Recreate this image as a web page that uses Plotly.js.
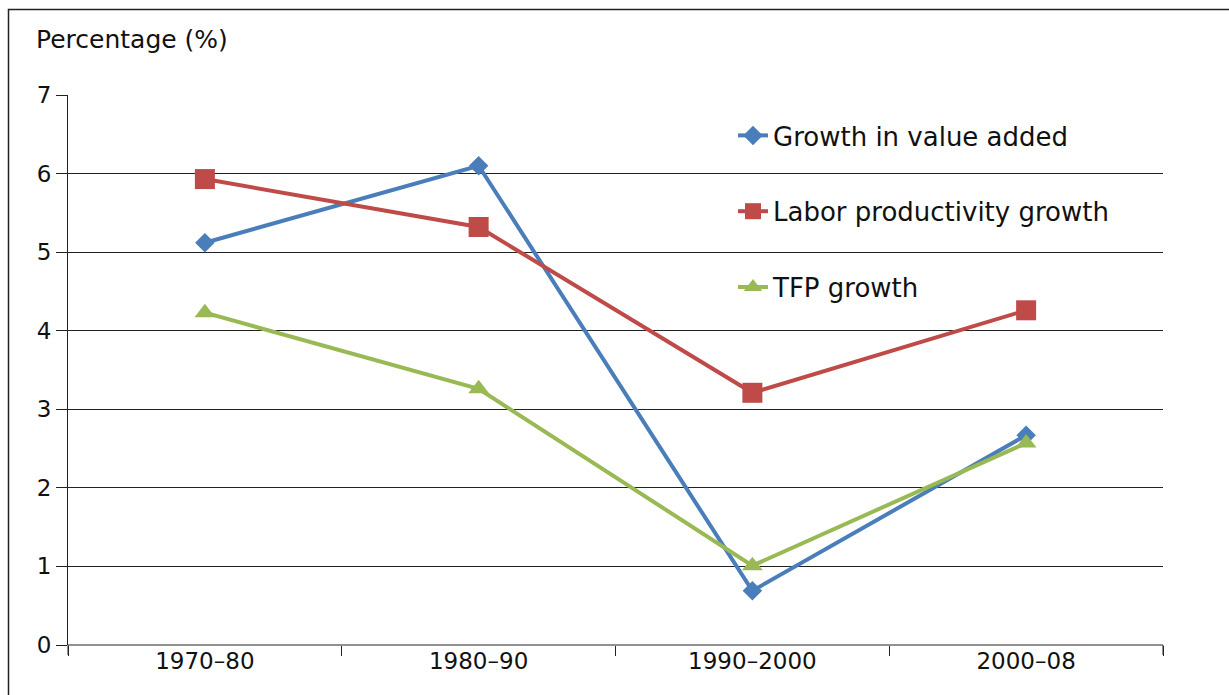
<!DOCTYPE html>
<html><head><meta charset="utf-8">
<script src="https://cdn.plot.ly/plotly-3.0.1.min.js"></script>
<style>html,body{margin:0;padding:0;background:#fff}#chart{width:1229px;height:695px}</style>
</head><body><div id="chart"></div>
<script>
const categories = ["1970–80", "1980–90", "1990–2000", "2000–08"];
const valueAdded = [5.12, 6.1, 0.69, 2.67];
const laborProductivity = [5.93, 5.32, 3.21, 4.26];
const tfpGrowth = [4.23, 3.26, 1.01, 2.57];
const yTicks = [0, 1, 2, 3, 4, 5, 6, 7];

const font = "'DejaVu Sans', sans-serif";
const traces = [
  {x: categories, y: valueAdded, name: "Growth in value added", legendgroup: "a", type: "scatter", mode: "lines+markers",
   line: {color: "#4A7EBB", width: 4}, marker: {symbol: "diamond", size: 15, color: "#4A7EBB"}},
  {x: categories, y: laborProductivity, name: "Labor productivity growth", legendgroup: "b", type: "scatter", mode: "lines+markers",
   line: {color: "#BE4B48", width: 4}, marker: {symbol: "square", size: 20, color: "#BE4B48"}},
  {x: categories, y: tfpGrowth, name: "TFP growth", legendgroup: "c", type: "scatter", mode: "lines+markers",
   line: {color: "#98B954", width: 4}, marker: {symbol: "triangle-up", size: 18, color: "#98B954"}}
];
const layout = {
  width: 1229, height: 695,
  margin: {l: 68, r: 66, t: 95, b: 50},
  paper_bgcolor: "#fff", plot_bgcolor: "#fff",
  font: {family: font, color: "#111", size: 22},
  showlegend: true,
  legend: {x: (733 - 68) / 1095, y: 1 - (112 - 95) / 550, xanchor: "left", yanchor: "top", bgcolor: "rgba(0,0,0,0)",
    font: {size: 26, family: font, color: "#111"}, tracegroupgap: 39},
  xaxis: {type: "category", tickson: "boundaries", ticks: "outside", ticklen: 10, tickcolor: "#222",
    showline: false, showgrid: false, zeroline: false, tickfont: {size: 23}, range: [-0.5, 3.5]},
  yaxis: {range: [0, 7], tickvals: yTicks, ticks: "outside", ticklen: 11, tickcolor: "#222",
    showgrid: true, gridcolor: "#222", gridwidth: 1, showline: true, linecolor: "#222", linewidth: 1,
    zeroline: false, tickfont: {size: 23}},
  shapes: [
    {type: "line", xref: "paper", yref: "paper", x0: 1, x1: 1, y0: 0, y1: -10/550, line: {color: "#222", width: 1}},
    {type: "line", xref: "paper", yref: "paper", x0: 0, x1: 0, y0: 0, y1: -10/550, line: {color: "#222", width: 1}},
    {type: "line", xref: "paper", yref: "paper", x0: 0, x1: 1, y0: 0, y1: 0, line: {color: "#222", width: 1}}
  ],
  annotations: [
    {text: "Percentage (%)", xref: "paper", yref: "paper", x: -34/1095, y: 1 + 55/550, xanchor: "left", yanchor: "middle",
     showarrow: false, font: {size: 25, family: font, color: "#111"}}
  ]
};
Plotly.newPlot("chart", traces, layout, {displayModeBar: false}).then(() => {
  const svg = document.querySelector("#chart .main-svg");
  const ns = "http://www.w3.org/2000/svg";
  const p = document.createElementNS(ns, "path");
  p.setAttribute("d", "M8.5,695 L8.5,9.5 L1229,9.5");
  p.setAttribute("stroke", "#222"); p.setAttribute("stroke-width", "1.5"); p.setAttribute("fill", "none");
  svg.appendChild(p);
});
</script></body></html>
